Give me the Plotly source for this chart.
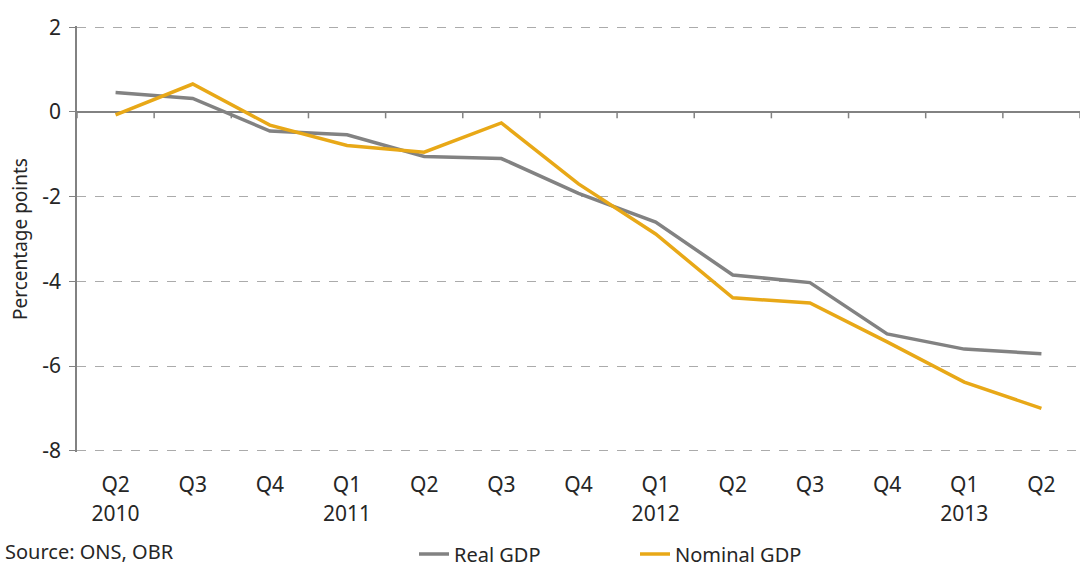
import plotly.graph_objects as go

quarters = ["Q2", "Q3", "Q4", "Q1", "Q2", "Q3", "Q4", "Q1", "Q2", "Q3", "Q4", "Q1", "Q2"]
years = ["2010", "", "", "2011", "", "", "", "2012", "", "", "", "2013", ""]
real_gdp = [0.46, 0.32, -0.45, -0.54, -1.05, -1.1, -1.92, -2.6, -3.85, -4.03, -5.24, -5.6, -5.71]
nominal_gdp = [-0.07, 0.66, -0.31, -0.79, -0.95, -0.26, -1.7, -2.88, -4.39, -4.51, -5.43, -6.38, -7.0]
y_ticks = [2, 0, -2, -4, -6, -8]

xs = list(range(len(quarters)))

GRAY = "#828282"
GOLD = "#E8A817"
TEXT = "#262626"
FONT = "Noto Sans"

fig = go.Figure()
fig.add_trace(go.Scatter(x=xs, y=real_gdp, mode="lines", name="Real GDP",
                         line=dict(color=GRAY, width=3.5)))
fig.add_trace(go.Scatter(x=xs, y=nominal_gdp, mode="lines", name="Nominal GDP",
                         line=dict(color=GOLD, width=3.5)))

# category-boundary tick marks hanging from the zero line
tick_x, tick_y = [], []
for i in range(len(xs) + 1):
    tick_x += [i - 0.5, i - 0.5, None]
    tick_y += [0, -0.15, None]
fig.add_trace(go.Scatter(x=tick_x, y=tick_y, mode="lines", showlegend=False, hoverinfo="skip",
                         line=dict(color=GRAY, width=1.5), cliponaxis=False))

xrange = [-0.5, len(xs) - 0.5]
fig.update_layout(
    width=1085, height=567,
    margin=dict(l=77, r=5, t=26, b=115, autoexpand=False),
    paper_bgcolor="white", plot_bgcolor="white",
    font=dict(family=FONT, size=20, color=TEXT),
    showlegend=True,
    legend=dict(orientation="h", x=(414 - 77) / 1003, xanchor="left",
                yref="container", y=(567 - 554) / 567, yanchor="middle",
                font=dict(size=20, color=TEXT), entrywidth=176, tracegroupgap=0),
    xaxis=dict(
        range=xrange, tickmode="array", tickvals=xs, ticktext=quarters,
        showgrid=False, zeroline=False, showline=False, ticks="", automargin=False,
        ticklabelstandoff=18,
        tickfont=dict(size=21, color=TEXT),
    ),
    xaxis2=dict(
        range=xrange, overlaying="x", side="bottom", anchor="y", automargin=False,
        tickmode="array", tickvals=xs, ticktext=years,
        showgrid=False, zeroline=False, showline=False, ticks="",
        ticklabelstandoff=47,
        tickfont=dict(size=21, color=TEXT),
    ),
    yaxis=dict(
        range=[-8.03, 2.03], tickmode="array", tickvals=y_ticks, ticktext=[str(v) for v in y_ticks],
        showgrid=True, gridcolor="#ABABAB", griddash="dash", gridwidth=1,
        zeroline=True, zerolinecolor=GRAY, zerolinewidth=1.5, automargin=False,
        showline=True, linecolor=GRAY, linewidth=1.5,
        ticks="outside", ticklen=6, tickcolor=GRAY, ticklabelstandoff=4,
        title=dict(text="Percentage points", font=dict(size=19, color=TEXT), standoff=10),
        tickfont=dict(size=21, color=TEXT),
    ),
)
# invisible trace so the second axis is active
fig.add_trace(go.Scatter(x=xs, y=real_gdp, xaxis="x2", mode="lines", showlegend=False,
                         hoverinfo="skip", line=dict(color="rgba(0,0,0,0)", width=0)))

fig.add_annotation(text="Source: ONS, OBR", xref="paper", yref="paper", x=-74/1003, y=-0.27,
                   xanchor="left", yanchor="bottom", showarrow=False,
                   font=dict(size=20, color=TEXT))

fig.write_html("out.html", post_script="document.body.style.margin='0';",
               config={"displayModeBar": False})
